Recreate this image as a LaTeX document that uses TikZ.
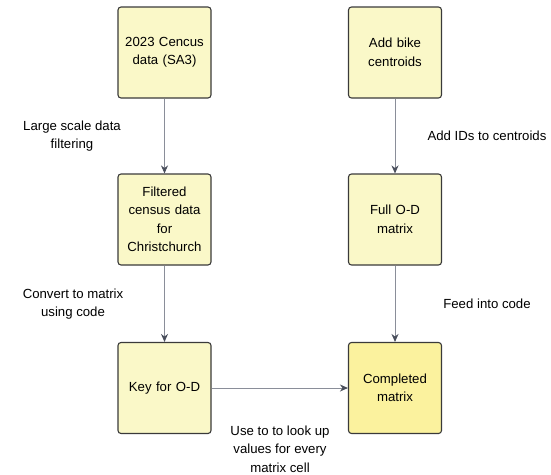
\documentclass[tikz,border=0pt]{standalone}
\usepackage{fontspec}
\setmainfont{Liberation Sans}
\usepackage{xcolor}
\usepackage{tikz}
\usetikzlibrary{arrows.meta,positioning}

\definecolor{boxfill}{HTML}{FAF8C8}
\definecolor{donefill}{HTML}{FBF29E}
\definecolor{boxline}{HTML}{3A3A3A}
\definecolor{flowline}{HTML}{8A8E99}
\definecolor{tipcol}{HTML}{4A4F5C}

\begin{document}
\begin{tikzpicture}[x=1pt,y=-1pt,
        stagebox/.style={draw=boxline,fill=boxfill,line width=1.1pt,rectangle,rounded corners=3pt,
            minimum width=93pt,minimum height=91pt,text width=84pt,align=center,inner sep=0pt,
            font=\fontsize{13.2}{18.5}\selectfont},
        steptext/.style={align=center,inner sep=0pt,font=\fontsize{13.2}{18.5}\selectfont},
        flow/.style={draw=flowline,line width=0.9pt,-{Stealth[length=8pt,width=7pt,color=tipcol]}}]
        \useasboundingbox (0,0) rectangle (551,474);
        % left column
        \node[stagebox] (census) at (164.5,52.5) {2023 Cencus\\data (SA3)};
        \node[stagebox] (filtered) at (164.5,219.5) {Filtered\\census data\\for\\Christchurch};
        \node[stagebox] (key) at (164.5,388) {Key for O-D};
        % right column
        \node[stagebox] (bike) at (395,52.5) {Add bike\\centroids};
        \node[stagebox] (fullod) at (395,219.5) {Full O-D\\matrix};
        \node[stagebox,fill=donefill] (done) at (395,388) {Completed\\matrix};
        % connectors
        \draw[flow] (census) -- (filtered);
        \draw[flow] (filtered) -- (key);
        \draw[flow] (bike) -- (fullod);
        \draw[flow] (fullod) -- (done);
        \draw[flow] (key) -- (done);
        % labels
        \node[steptext] (lblfilter) at (72,136) {Large scale data\\filtering};
        \node[steptext] (lblconvert) at (73,304) {Convert to matrix\\using code};
        \node[steptext] (lblids) at (487,136) {Add IDs to centroids};
        \node[steptext] (lblfeed) at (487,304) {Feed into code};
        \node[steptext] (lbllookup) at (280,449) {Use to to look up\\values for every\\matrix cell};
    \end{tikzpicture}
\end{document}
